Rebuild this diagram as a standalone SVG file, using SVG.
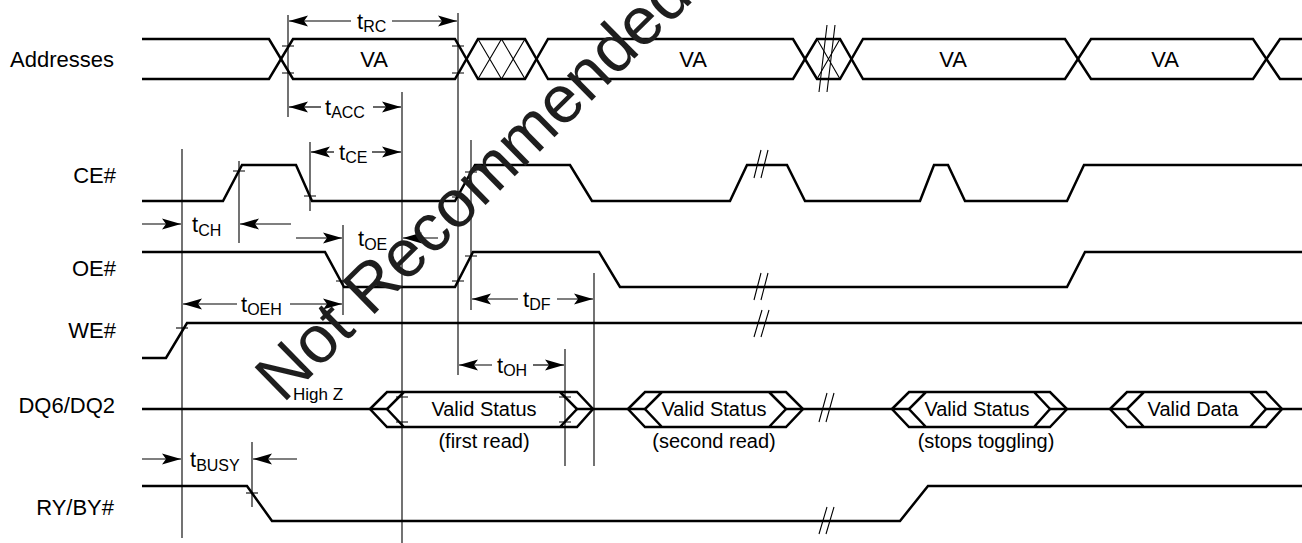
<svg xmlns="http://www.w3.org/2000/svg" width="1302" height="543" viewBox="0 0 1302 543">
<style>
.sig{fill:none;stroke:#000;stroke-width:2.5;stroke-linejoin:miter}
.thin{fill:none;stroke:#000;stroke-width:1.1}
.dim{fill:none;stroke:#000;stroke-width:1.2;marker-end:url(#ah)}
.lbl{font-family:"Liberation Sans",Arial,Helvetica,sans-serif;font-size:22px;text-anchor:end;fill:#000}
.t{font-family:"Liberation Sans",Arial,Helvetica,sans-serif;font-size:22px;fill:#000}
.sub{font-size:16px}
.bus{font-family:"Liberation Sans",Arial,Helvetica,sans-serif;font-size:20px;text-anchor:middle;fill:#000}
.va{font-size:22px}
.hz{font-family:"Liberation Sans",Arial,Helvetica,sans-serif;font-size:17px;fill:#000}
.wm{font-family:"Liberation Sans",Arial,Helvetica,sans-serif;font-size:67px;fill:#1e1e1e}
</style>
<defs>
<marker id="ah" viewBox="-20 -6 21 12" refX="0" refY="0" markerWidth="21" markerHeight="12" markerUnits="userSpaceOnUse" orient="auto">
<path d="M0,0 L-19,-5.5 L-15,0 L-19,5.5 Z" fill="#000"/>
</marker>
</defs>
<rect width="1302" height="543" fill="#fff"/>

<g id="addresses">
<text class="lbl" x="114" y="67">Addresses</text>
<path class="sig" d="M142,39 H269 L293,79 H455 L478,39 H525 L548,79 H793 L817,39 H840 L863,79 H1065 L1091,39 H1253 L1280,79 H1302"/>
<path class="sig" d="M142,79 H269 L293,39 H455 L478,79 H525 L548,39 H793 L817,79 H840 L863,39 H1065 L1091,79 H1253 L1280,39 H1302"/>
<path class="thin" d="M478,39 L501.5,79 M478,79 L501.5,39 M501.5,39 L525,79 M501.5,79 L525,39 M817,39 L840,79 M817,79 L840,39"/>
<path class="thin" d="M827,25 L819,92 M835,25 L827,92"/>
<path class="thin" d="M282,46 H294 M282,73 H294 M452,46 H464 M452,73 H464"/>
<text class="bus va" x="374" y="67">VA</text>
<text class="bus va" x="693" y="67">VA</text>
<text class="bus va" x="953" y="67">VA</text>
<text class="bus va" x="1165" y="67">VA</text>
</g>

<g id="ce">
<text class="lbl" x="116" y="183">CE#</text>
<path class="sig" d="M142,201 H223 L242,165 H296 L312,201 H455 L475,165 H570 L592,201 H730 L747,165 H787 L805,201 H920 L934,165 H948 L965,201 H1067 L1084,165 H1302"/>
<path class="thin" d="M233,171 H245 M304,196 H316 M452,197 H464 M465,172 H477"/>
<path class="thin" d="M761,150 L754,178 M768,150 L761,178"/>
</g>

<g id="oe">
<text class="lbl" x="116" y="276">OE#</text>
<path class="sig" d="M142,252 H325 L344,287 H455 L473,252 H599 L620,287 H1067 L1085,252 H1302"/>
<path class="thin" d="M336,281 H349 M452,281 H464 M465,256 H477"/>
<path class="thin" d="M761,273 L754,300 M768,273 L761,300"/>
</g>

<g id="we">
<text class="lbl" x="116" y="338">WE#</text>
<path class="sig" d="M142,358 H166 L187,323 H1302"/>
<path class="thin" d="M176,328 H188"/>
<path class="thin" d="M762,310 L754,337 M769,310 L761,337"/>
</g>

<g id="dq">
<text class="lbl" x="115" y="413">DQ6/DQ2</text>
<path class="sig" d="M142,409 H388 M577,409 H646 M786,409 H910 M1050,409 H1127 M1266,409 H1302"/>
<path class="sig" d="M370,409 L387,392 H577 L593,409 L577,427 H387 Z M404,392 L387,409 L404,427 M560,392 L577,409 L560,427"/>
<path class="sig" d="M628,409 L645,392 H786 L803,409 L786,427 H645 Z M662,392 L645,409 L662,427 M769,392 L786,409 L769,427"/>
<path class="sig" d="M892,409 L909,392 H1050 L1067,409 L1050,427 H909 Z M926,392 L909,409 L926,427 M1034,392 L1050,409 L1034,427"/>
<path class="sig" d="M1110,409 L1127,392 H1266 L1282,409 L1266,427 H1127 Z M1144,392 L1127,409 L1144,427 M1250,392 L1266,409 L1250,427"/>
<path class="thin" d="M396,397 H408 M396,422 H408 M559,397 H571 M559,422 H571"/>
<path class="thin" d="M827,393 L819,422 M834,393 L826,422"/>
<text class="hz" x="293" y="400">High Z</text>
<text class="bus" x="484" y="416">Valid Status</text>
<text class="bus" x="484" y="448">(first read)</text>
<text class="bus" x="714" y="416">Valid Status</text>
<text class="bus" x="714" y="448">(second read)</text>
<text class="bus" x="977" y="416">Valid Status</text>
<text class="bus" x="986" y="448">(stops toggling)</text>
<text class="bus" x="1193" y="416">Valid Data</text>
</g>

<g id="ryby">
<text class="lbl" x="114" y="515">RY/BY#</text>
<path class="sig" d="M142,486 H247 L272,521 H900 L928,486 H1302"/>
<path class="thin" d="M246,493 H258"/>
<path class="thin" d="M827,507 L819,534 M834,507 L826,534"/>
</g>

<g id="connectors">
<path class="thin" d="M182,149 V538 M239,161 V243 M310,142 V211 M288,15 V117 M402,92 V543 M458,13 V375 M343,225 V315 M471,140 V310 M565,349 V466 M594,273 V466 M252,442 V507"/>
<line class="dim" x1="351" y1="21" x2="289" y2="21"/>
<line class="dim" x1="392" y1="21" x2="457" y2="21"/>
<text class="t" x="357" y="29">t<tspan class="sub" dy="3">RC</tspan></text>
<line class="dim" x1="321" y1="107" x2="289" y2="107"/>
<line class="dim" x1="373" y1="107" x2="401" y2="107"/>
<text class="t" x="325" y="115">t<tspan class="sub" dy="3">ACC</tspan></text>
<line class="dim" x1="334" y1="152" x2="311" y2="152"/>
<line class="dim" x1="372" y1="152" x2="401" y2="152"/>
<text class="t" x="339" y="160">t<tspan class="sub" dy="3">CE</tspan></text>
<line class="dim" x1="142" y1="224" x2="181" y2="224"/>
<line class="dim" x1="291" y1="224" x2="240" y2="224"/>
<text class="t" x="192" y="232">t<tspan class="sub" dy="4">CH</tspan></text>
<line class="dim" x1="296" y1="238" x2="342" y2="238"/>
<line class="dim" x1="438" y1="238" x2="403" y2="238"/>
<text class="t" x="358" y="246">t<tspan class="sub" dy="4">OE</tspan></text>
<line class="dim" x1="237" y1="304" x2="183" y2="304"/>
<line class="dim" x1="290" y1="304" x2="342" y2="304"/>
<text class="t" x="241" y="312">t<tspan class="sub" dy="3">OEH</tspan></text>
<line class="dim" x1="518" y1="299" x2="472" y2="299"/>
<line class="dim" x1="557" y1="299" x2="593" y2="299"/>
<text class="t" x="523" y="307">t<tspan class="sub" dy="3">DF</tspan></text>
<line class="dim" x1="492" y1="365" x2="459" y2="365"/>
<line class="dim" x1="533" y1="365" x2="564" y2="365"/>
<text class="t" x="497" y="373">t<tspan class="sub" dy="3">OH</tspan></text>
<line class="dim" x1="142" y1="459" x2="181" y2="459"/>
<line class="dim" x1="297" y1="459" x2="253" y2="459"/>
<text class="t" x="190" y="467">t<tspan class="sub" dy="4">BUSY</tspan></text>
</g>

<g id="watermark">
<text class="wm" transform="translate(283,404) rotate(-44.5)">Not Recommended</text>
</g>
</svg>
